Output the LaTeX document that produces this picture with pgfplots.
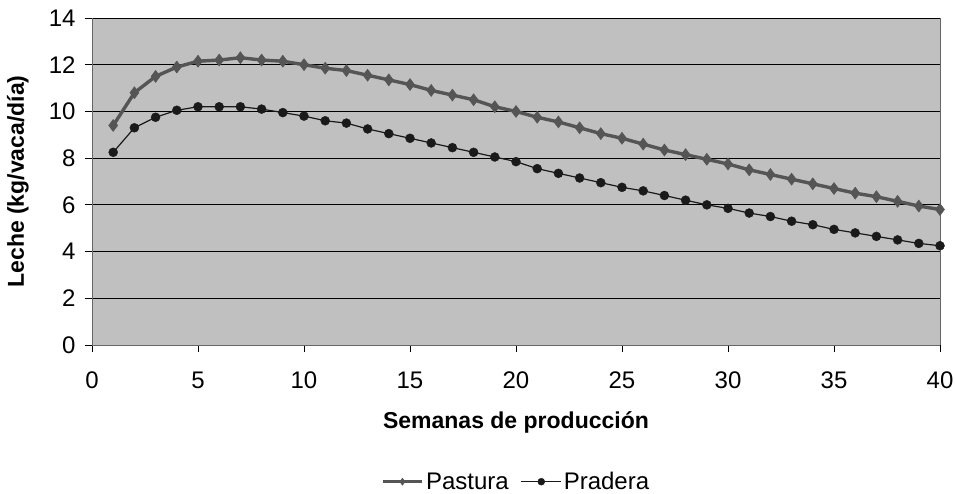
\documentclass[border=0pt]{standalone}
\usepackage{pgfplots}
\pgfplotsset{compat=1.18}
\usepackage{fontspec}
\setmainfont{Liberation Sans}
\definecolor{plotbg}{HTML}{C0C0C0}
\definecolor{pastcol}{HTML}{555555}
\definecolor{pradcol}{HTML}{1A1A1A}
\begin{document}
\begin{tikzpicture}
\begin{axis}[
  at={(0,0)}, anchor=south west,
  scale only axis, width=848pt, height=327pt,
  xmin=0, xmax=40, ymin=0, ymax=14,
  xtick={0,5,...,40}, ytick={0,2,...,14},
  axis background/.style={fill=plotbg},
  axis line style={draw=gray!80!black},
  axis x line*=bottom, axis y line*=left,
  tick align=outside, major tick length=7pt,
  tick style={black, line width=0.8pt},
  ymajorgrids, grid style={black, line width=0.8pt},
  /pgf/number format/assume math mode=true,
  tick label style={font=\fontsize{24}{28}\selectfont},
  xticklabel style={yshift=-16pt},
  yticklabel style={xshift=-6pt},
  xlabel={\textbf{Semanas de producción}},
  ylabel={\textbf{Leche (kg/vaca/día)}},
  label style={font=\fontsize{23}{27}\selectfont},
  xlabel style={at={(axis description cs:0.5,-0.2355)}, anchor=center},
  ylabel style={at={(axis description cs:-0.0873,0.5)}, anchor=center},
  legend style={at={(axis description cs:0.5,-0.418)}, anchor=center, draw=none, fill=none,
    font=\fontsize{24}{28}\selectfont, /tikz/every even column/.append style={column sep=10pt}},
  legend columns=2,
  legend image code/.code={\draw[#1] (0cm,0cm) -- (1.4cm,0cm); \draw[#1,mark repeat=2,mark phase=2,mark size=3.5pt] plot coordinates {(0cm,0cm) (0.7cm,0cm) (1.4cm,0cm)};},
  clip=false,
]
\addplot[pastcol, line width=3.4pt, mark=diamond*, mark size=6pt, mark options={line width=0.5pt, fill=pastcol, draw=pastcol}] coordinates {
(1,9.4) (2,10.8) (3,11.5) (4,11.9) (5,12.15) (6,12.2) (7,12.3) (8,12.2) (9,12.15) (10,12.0)
(11,11.85) (12,11.75) (13,11.55) (14,11.35) (15,11.15) (16,10.9) (17,10.7) (18,10.5) (19,10.2) (20,10.0)
(21,9.75) (22,9.55) (23,9.3) (24,9.05) (25,8.85) (26,8.6) (27,8.35) (28,8.15) (29,7.95) (30,7.75)
(31,7.5) (32,7.3) (33,7.1) (34,6.9) (35,6.7) (36,6.5) (37,6.35) (38,6.15) (39,5.95) (40,5.8)
};
\addlegendentry{Pastura}
\addplot[pradcol, line width=1.2pt, mark=*, mark size=4.5pt, mark options={fill=pradcol, draw=pradcol, line width=0.4pt}] coordinates {
(1,8.25) (2,9.3) (3,9.75) (4,10.05) (5,10.2) (6,10.2) (7,10.2) (8,10.1) (9,9.95) (10,9.8)
(11,9.6) (12,9.5) (13,9.25) (14,9.05) (15,8.85) (16,8.65) (17,8.45) (18,8.25) (19,8.05) (20,7.85)
(21,7.55) (22,7.35) (23,7.15) (24,6.95) (25,6.75) (26,6.6) (27,6.4) (28,6.2) (29,6.0) (30,5.85)
(31,5.65) (32,5.5) (33,5.3) (34,5.15) (35,4.95) (36,4.8) (37,4.65) (38,4.5) (39,4.35) (40,4.25)
};
\addlegendentry{Pradera}
\draw[gray!80!black, line width=0.8pt] (axis cs:40,0) -- (axis cs:40,14);
\end{axis}
\pgfresetboundingbox
\path[use as bounding box] (-92pt,-148pt) rectangle (864pt,345pt);
\end{tikzpicture}
\end{document}
